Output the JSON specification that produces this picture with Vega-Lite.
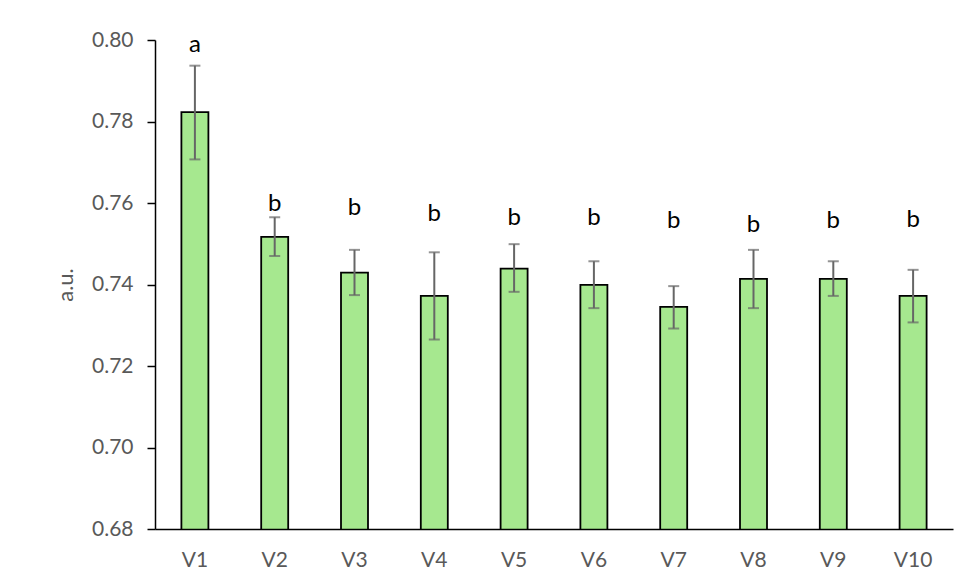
{
  "$schema": "https://vega.github.io/schema/vega-lite/v6.json",
  "autosize": {"type": "none"},
  "width": 798,
  "height": 489,
  "padding": {"left": 155, "top": 40, "right": 27, "bottom": 54},
  "background": "white",
  "config": {
    "view": {"stroke": null},
    "font": "Lato"
  },
  "data": {
    "values": [
      {"v": "V1", "mean": 0.7823, "lo": 0.7707, "hi": 0.7937, "grp": "a", "lab": 0.7970},
      {"v": "V2", "mean": 0.7517, "lo": 0.7470, "hi": 0.7565, "grp": "b", "lab": 0.7580},
      {"v": "V3", "mean": 0.7429, "lo": 0.7374, "hi": 0.7485, "grp": "b", "lab": 0.7571},
      {"v": "V4", "mean": 0.7372, "lo": 0.7265, "hi": 0.7479, "grp": "b", "lab": 0.7557},
      {"v": "V5", "mean": 0.7439, "lo": 0.7382, "hi": 0.7499, "grp": "b", "lab": 0.7546},
      {"v": "V6", "mean": 0.7399, "lo": 0.7342, "hi": 0.7457, "grp": "b", "lab": 0.7546},
      {"v": "V7", "mean": 0.7345, "lo": 0.7292, "hi": 0.7396, "grp": "b", "lab": 0.7538},
      {"v": "V8", "mean": 0.7414, "lo": 0.7342, "hi": 0.7485, "grp": "b", "lab": 0.7530},
      {"v": "V9", "mean": 0.7414, "lo": 0.7372, "hi": 0.7457, "grp": "b", "lab": 0.7538},
      {"v": "V10", "mean": 0.7372, "lo": 0.7307, "hi": 0.7436, "grp": "b", "lab": 0.7542}
    ]
  },
  "encoding": {
    "x": {
      "field": "v",
      "type": "nominal",
      "sort": null,
      "scale": {"paddingInner": 0, "paddingOuter": 0},
      "axis": {
        "title": null,
        "labelAngle": 0,
        "labelFontSize": 21,
        "labelColor": "#595959",
        "labelPadding": 20,
        "ticks": false,
        "domainColor": "#000000",
        "domainWidth": 1.5,
        "zindex": 1
      }
    }
  },
  "layer": [
    {
      "mark": {"type": "bar", "size": 27, "fill": "#a6e88f", "stroke": "#000000", "strokeWidth": 1.8, "clip": true},
      "encoding": {
        "y": {
          "field": "mean",
          "type": "quantitative",
          "scale": {"domain": [0.68, 0.80], "zero": false, "nice": false},
          "axis": {
            "title": "a.u.",
            "titleFontSize": 22,
            "titleFontWeight": "normal",
            "titleColor": "#595959",
            "titlePadding": 14,
            "values": [0.68, 0.70, 0.72, 0.74, 0.76, 0.78, 0.80],
            "format": ".2f",
            "labelFontSize": 21,
            "labelColor": "#595959",
            "labelPadding": 14,
            "tickSize": 8,
            "tickColor": "#000000",
            "tickWidth": 1.5,
            "domainColor": "#000000",
            "domainWidth": 1.5,
            "grid": false,
            "zindex": 1
          }
        }
      }
    },
    {
      "mark": {"type": "rule", "color": "#666666", "strokeWidth": 2},
      "encoding": {
        "y": {"field": "lo", "type": "quantitative"},
        "y2": {"field": "hi"}
      }
    },
    {
      "mark": {"type": "tick", "color": "#666666", "size": 11, "thickness": 2},
      "encoding": {
        "y": {"field": "hi", "type": "quantitative"}
      }
    },
    {
      "mark": {"type": "tick", "color": "#666666", "size": 11, "thickness": 2},
      "encoding": {
        "y": {"field": "lo", "type": "quantitative"}
      }
    },
    {
      "mark": {"type": "text", "fontSize": 24, "color": "#000000", "baseline": "alphabetic", "align": "center"},
      "encoding": {
        "y": {"field": "lab", "type": "quantitative"},
        "text": {"field": "grp"}
      }
    }
  ]
}
